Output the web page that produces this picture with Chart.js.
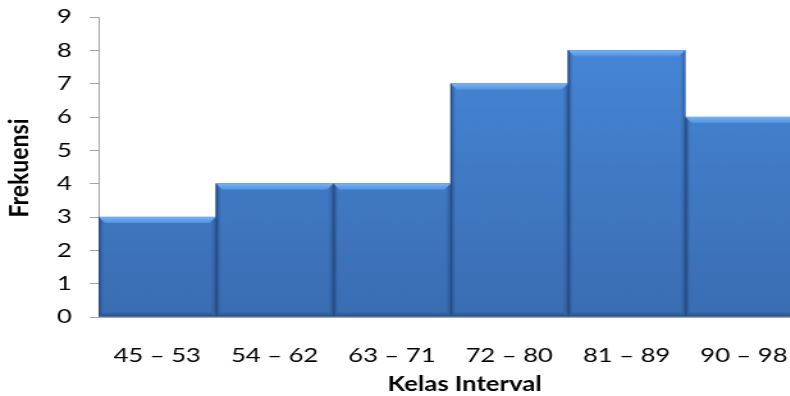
<!DOCTYPE html>
<html>
<head>
<meta charset="utf-8">
<script src="https://cdn.jsdelivr.net/npm/chart.js@4.4.1/dist/chart.umd.min.js"></script>
<style>
  html, body { margin: 0; padding: 0; background: #ffffff; overflow: hidden; width: 790px; height: 396px; }
  /* the chart is drawn on a narrower canvas and widened horizontally */
  #wrap { position: absolute; left: 0; top: 0; width: 630px; height: 396px;
          transform: scaleX(1.28); transform-origin: 0 0; }
</style>
</head>
<body>
<div id="wrap"><canvas id="histo" width="630" height="396"></canvas></div>
<script>
// Frequency table of the class intervals
const categories = ['45 – 53', '54 – 62', '63 – 71', '72 – 80', '81 – 89', '90 – 98'];
const frequencies = [3, 4, 4, 7, 8, 6];
const yTicks = [0, 1, 2, 3, 4, 5, 6, 7, 8, 9];

const FONT = "Lato, 'Open Sans', sans-serif";

// Vertical gradient for the bar body
function barGradient(context) {
  const chart = context.chart;
  const area = chart.chartArea;
  if (!area) return '#4080d0';
  const g = chart.ctx.createLinearGradient(0, area.top, 0, area.bottom);
  g.addColorStop(0, '#4788da');
  g.addColorStop(1, '#3a6db2');
  return g;
}

// Draws the bevelled edges of each bar on top of the plain fill
const bevelPlugin = {
  id: 'bevel',
  afterDatasetsDraw(chart) {
    const ctx = chart.ctx;
    const meta = chart.getDatasetMeta(0);
    ctx.save();
    meta.data.forEach((bar) => {
      const p = bar.getProps(['x', 'y', 'base', 'width'], true);
      const l = p.x - p.width / 2, r = p.x + p.width / 2;
      const t = p.y, b = p.base;
      const bv = 6, bh = 5;

      // top bevel
      let g = ctx.createLinearGradient(0, t, 0, t + bv);
      g.addColorStop(0, '#7ab2f2');
      g.addColorStop(1, '#5091df');
      ctx.fillStyle = g;
      ctx.beginPath();
      ctx.moveTo(l, t); ctx.lineTo(r, t);
      ctx.lineTo(r - bh, t + bv); ctx.lineTo(l + bh, t + bv);
      ctx.closePath(); ctx.fill();

      // left edge
      g = ctx.createLinearGradient(l, 0, l + 4, 0);
      g.addColorStop(0, 'rgba(30,60,110,0.75)');
      g.addColorStop(1, 'rgba(40,80,140,0.0)');
      ctx.fillStyle = g;
      ctx.beginPath();
      ctx.moveTo(l, t); ctx.lineTo(l + bh, t + bv);
      ctx.lineTo(l + 4, b - 4); ctx.lineTo(l, b);
      ctx.closePath(); ctx.fill();

      // right edge
      g = ctx.createLinearGradient(r - 4, 0, r, 0);
      g.addColorStop(0, 'rgba(40,80,140,0.0)');
      g.addColorStop(1, 'rgba(35,70,125,0.6)');
      ctx.fillStyle = g;
      ctx.beginPath();
      ctx.moveTo(r, t); ctx.lineTo(r - bh, t + bv);
      ctx.lineTo(r - 4, b - 4); ctx.lineTo(r, b);
      ctx.closePath(); ctx.fill();

      // bottom edge
      g = ctx.createLinearGradient(0, b - 5, 0, b);
      g.addColorStop(0, 'rgba(40,80,140,0.0)');
      g.addColorStop(1, 'rgba(30,60,110,0.7)');
      ctx.fillStyle = g;
      ctx.beginPath();
      ctx.moveTo(l, b); ctx.lineTo(l + 4, b - 5);
      ctx.lineTo(r - 4, b - 5); ctx.lineTo(r, b);
      ctx.closePath(); ctx.fill();

      // thin dark line where neighbouring bars meet
      ctx.fillStyle = 'rgba(35,70,120,0.55)';
      ctx.fillRect(l, t, 1, b - t);
    });
    ctx.restore();
  }
};

// Axis titles
const titlePlugin = {
  id: 'axisTitles',
  afterDraw(chart) {
    const ctx = chart.ctx;
    ctx.save();
    ctx.fillStyle = '#000000';
    ctx.textAlign = 'center';
    ctx.textBaseline = 'middle';
    ctx.font = 'bold 20px ' + FONT;
    ctx.fillText('Kelas Interval', 363, 385);
    ctx.font = 'bold 20px ' + FONT;
    ctx.translate(16, 168);
    ctx.rotate(-Math.PI / 2);
    ctx.scale(1.15, 1);
    ctx.fillText('Frekuensi', 0, 0);
    ctx.restore();
  }
};

new Chart(document.getElementById('histo'), {
  type: 'bar',
  data: {
    labels: categories,
    datasets: [{
      data: frequencies,
      backgroundColor: barGradient,
      borderWidth: 0,
      categoryPercentage: 1.0,
      barPercentage: 1.0
    }]
  },
  options: {
    responsive: false,
    animation: false,
    events: [],
    layout: { padding: { left: 0, top: 17, right: 3, bottom: 0 } },
    plugins: { legend: { display: false }, tooltip: { enabled: false } },
    scales: {
      x: {
        grid: { display: true, drawOnChartArea: false, drawTicks: false },
        border: { display: true, color: '#a6a6a6', width: 1 },
        ticks: { color: '#000000', font: { family: FONT, size: 20 }, padding: 27, maxRotation: 0 },
        afterFit(scale) {
          scale.height = 79;
          scale.paddingLeft = 0;
          scale.paddingRight = 0;
        }
      },
      y: {
        min: 0,
        max: 9,
        afterBuildTicks(scale) { scale.ticks = yTicks.map(v => ({ value: v })); },
        grid: { display: true, drawOnChartArea: false, drawTicks: true, tickLength: 7, color: '#a6a6a6' },
        border: { display: true, color: '#a6a6a6', width: 1 },
        ticks: { color: '#000000', font: { family: FONT, size: 20 }, padding: 14 },
        afterFit(scale) {
          scale.width = 77;
          scale.paddingTop = 0;
          scale.paddingBottom = 0;
        }
      }
    }
  },
  plugins: [bevelPlugin, titlePlugin]
});
</script>
</body>
</html>
